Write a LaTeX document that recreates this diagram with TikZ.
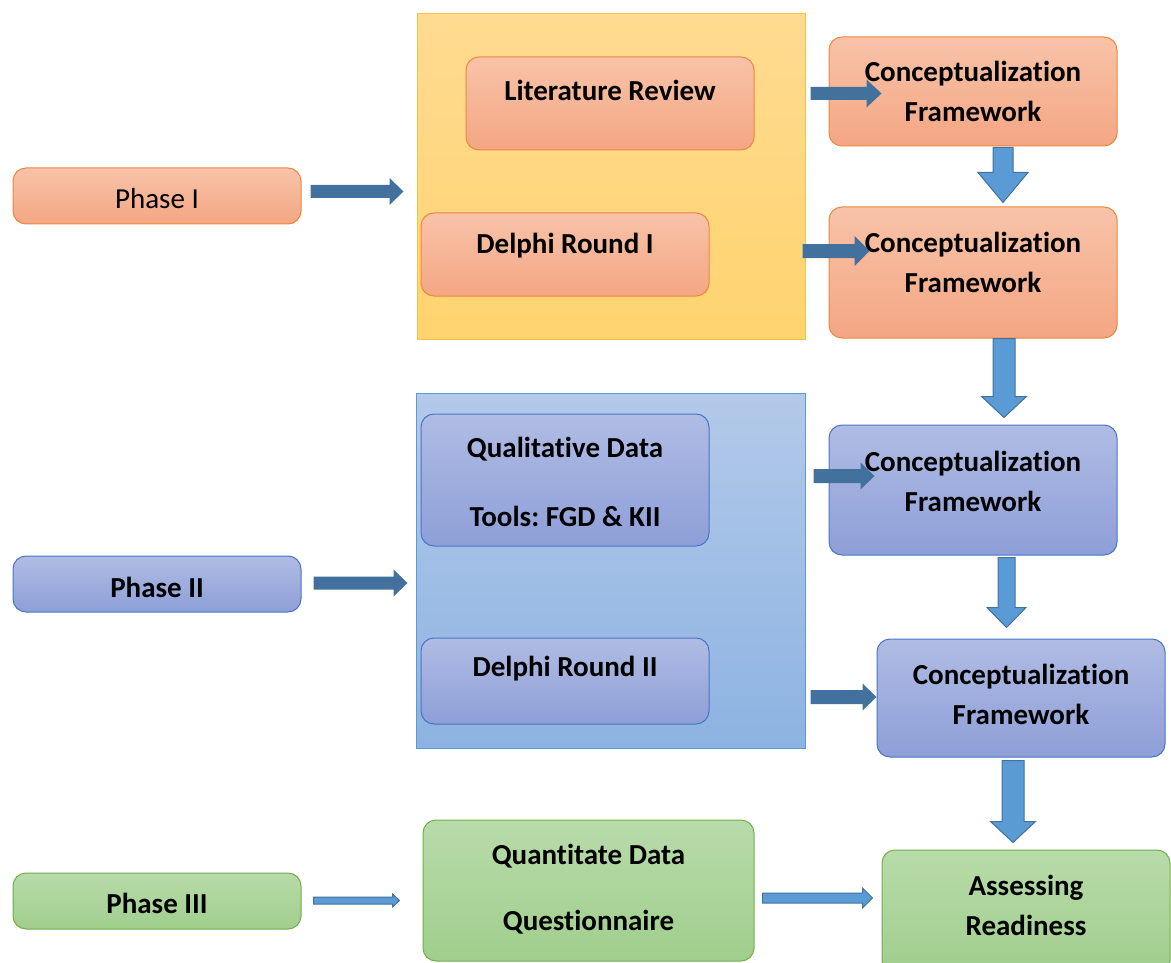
\documentclass[tikz,border=0pt]{standalone}
\usepackage{fontspec}
\setmainfont[Ligatures=NoCommon]{Carlito}
\usetikzlibrary{calc}
\frenchspacing

\definecolor{orTop}{HTML}{F8C3A9}
\definecolor{orBot}{HTML}{F4A683}
\definecolor{orLine}{HTML}{EE8640}
\definecolor{yeTop}{HTML}{FFDB92}
\definecolor{yeBot}{HTML}{FFD36E}
\definecolor{yeLine}{HTML}{F7C23E}
\definecolor{blTop}{HTML}{B3C9E9}
\definecolor{blBot}{HTML}{8DB3E2}
\definecolor{blLine}{HTML}{5B9BD5}
\definecolor{vlTop}{HTML}{B0BCE4}
\definecolor{vlBot}{HTML}{8E9FD8}
\definecolor{vlLine}{HTML}{4A74C6}
\definecolor{grTop}{HTML}{B8DBAA}
\definecolor{grBot}{HTML}{A0CE8C}
\definecolor{grLine}{HTML}{72AE4A}
\definecolor{arDark}{HTML}{41719C}
\definecolor{arLight}{HTML}{5B9BD5}

% horizontal block arrow: style, start, end (x only), shaft half, head half, head length
\newcommand\harr[6]{\path[#1] let \p1=#2, \p2=#3 in
  (\x1,\y1+#4) -- (\x2-#6,\y1+#4) -- (\x2-#6,\y1+#5) -- (\x2,\y1)
  -- (\x2-#6,\y1-#5) -- (\x2-#6,\y1-#4) -- (\x1,\y1-#4) -- cycle;}
% downward block arrow: style, start, end (y only), shaft half, head half, head length
\newcommand\varr[6]{\path[#1] let \p1=#2, \p2=#3 in
  (\x1-#4,\y1) -- (\x1-#4,\y2+#6) -- (\x1-#5,\y2+#6) -- (\x1,\y2)
  -- (\x1+#5,\y2+#6) -- (\x1+#4,\y2+#6) -- (\x1+#4,\y1) -- cycle;}

\tikzset{
  base/.style={rounded corners=13pt, line width=1pt, inner sep=0pt,
    font=\fontsize{29}{40}\selectfont\bfseries, align=center},
  obox/.style={base, top color=orTop, bottom color=orBot, draw=orLine},
  vbox/.style={base, top color=vlTop, bottom color=vlBot, draw=vlLine},
  gbox/.style={base, top color=grTop, bottom color=grBot, draw=grLine},
  txt/.style={font=\fontsize{29}{40}\selectfont\bfseries, align=center, inner sep=0pt},
  darr/.style={fill=arDark},
  larr/.style={fill=arLight, draw=arDark, line width=1pt},
}

\begin{document}
\begin{tikzpicture}[x=1pt,y=-1pt]
\useasboundingbox (0,0) rectangle (1171,963);

% group panels
\node[draw=yeLine, line width=1pt, top color=yeTop, bottom color=yeBot,
  minimum width=388, minimum height=325, inner sep=0pt] (ybox) at (611,176.5) {};
\node[draw=blLine, line width=1pt, top color=blTop, bottom color=blBot,
  minimum width=389, minimum height=355, inner sep=0pt] (bbox) at (610.5,570.5) {};

% phase labels
\node[obox, minimum width=288, minimum height=56] (p1) at (157,196) {};
\node[txt, font=\fontsize{29}{40}\selectfont] at ($(p1)+(0,3)$) {Phase I};
\node[vbox, minimum width=288, minimum height=56] (p2) at (157,584) {};
\node[txt] at ($(p2)+(0,3)$) {Phase II};
\node[gbox, minimum width=288, minimum height=56] (p3) at (157,901) {};
\node[txt] at ($(p3)+(0,2)$) {Phase III};

% activities
\node[obox, minimum width=288, minimum height=93] (lit) at (610,103.5) {};
\node[txt] at ($(lit)+(0,-13)$) {Literature Review};
\node[obox, minimum width=288, minimum height=83] (d1) at (565,254.5) {};
\node[txt] at ($(d1)+(0,-9)$) {Delphi Round I};
\node[vbox, minimum width=288, minimum height=132] (qual) at (565,480) {};
\node[txt] at ($(qual)+(0,2)$) {Qualitative Data\\[29pt]Tools: FGD \& KII};
\node[vbox, minimum width=288, minimum height=86] (d2) at (565,681) {};
\node[txt] at ($(d2)+(0,-12)$) {Delphi Round II};
\node[gbox, minimum width=331, minimum height=141] (quant) at (588.5,890.5) {};
\node[txt] at ($(quant)+(0,-1)$) {Quantitate Data\\[26pt]Questionnaire};

% frameworks
\node[obox, minimum width=288, minimum height=109] (cf1) at (973,91.5) {};
\node[txt] at ($(cf1)+(0,0)$) {Conceptualization\\Framework};
\node[obox, minimum width=288, minimum height=131] (cf2) at (973,272.5) {};
\node[txt] at ($(cf2)+(0,-10)$) {Conceptualization\\Framework};
\node[vbox, minimum width=288, minimum height=130] (cf3) at (973,490) {};
\node[txt] at ($(cf3)+(0,-9)$) {Conceptualization\\Framework};
\node[vbox, minimum width=288, minimum height=118] (cf4) at (1021,698) {};
\node[txt] at ($(cf4)+(0,-4)$) {Conceptualization\\Framework};
\node[gbox, minimum width=288, minimum height=124] (ass) at (1026,912) {};
\node[txt] at ($(ass)+(0,-7)$) {Assessing\\Readiness};

% horizontal flow arrows
\harr{darr}{($(p1.east)+(9,-4.5)$)}{($(ybox.west)+(-13,0)$)}{6.5}{13.5}{14}
\harr{darr}{($(lit.east)+(56,-10)$)}{($(cf1.west)+(53,0)$)}{6.5}{14}{15}
\harr{darr}{($(d1.east)+(93,-3.5)$)}{($(cf2.west)+(41,0)$)}{7}{15}{15}
\harr{darr}{($(p2.east)+(12,-1)$)}{($(bbox.west)+(-8,0)$)}{6.5}{13.5}{14}
\harr{darr}{($(qual.east)+(104,-4)$)}{($(cf3.west)+(46,0)$)}{7}{13.5}{14}
\harr{darr}{($(d2.east)+(101,16)$)}{($(cf4.west)+(0,0)$)}{7}{13.5}{14}
\harr{larr}{($(p3.east)+(12,-0.5)$)}{($(quant.west)+(-23,0)$)}{3.5}{6.5}{7}
\harr{larr}{($(quant.east)+(8,7.5)$)}{($(ass.west)+(-9,0)$)}{5}{10}{10}

% vertical flow arrows
\varr{larr}{($(cf1.south)+(30,1)$)}{($(cf2.north)+(0,-4)$)}{10}{25}{30}
\varr{larr}{($(cf2.south)+(31,0)$)}{($(cf3.north)+(0,-7)$)}{11}{22.5}{21}
\varr{larr}{($(cf3.south)+(33.5,2)$)}{($(cf4.north)+(0,-11)$)}{8.5}{19.5}{20}
\varr{larr}{($(cf4.south)+(-8,3)$)}{($(ass.north)+(0,-7)$)}{11}{22.5}{21}
\end{tikzpicture}
\end{document}
